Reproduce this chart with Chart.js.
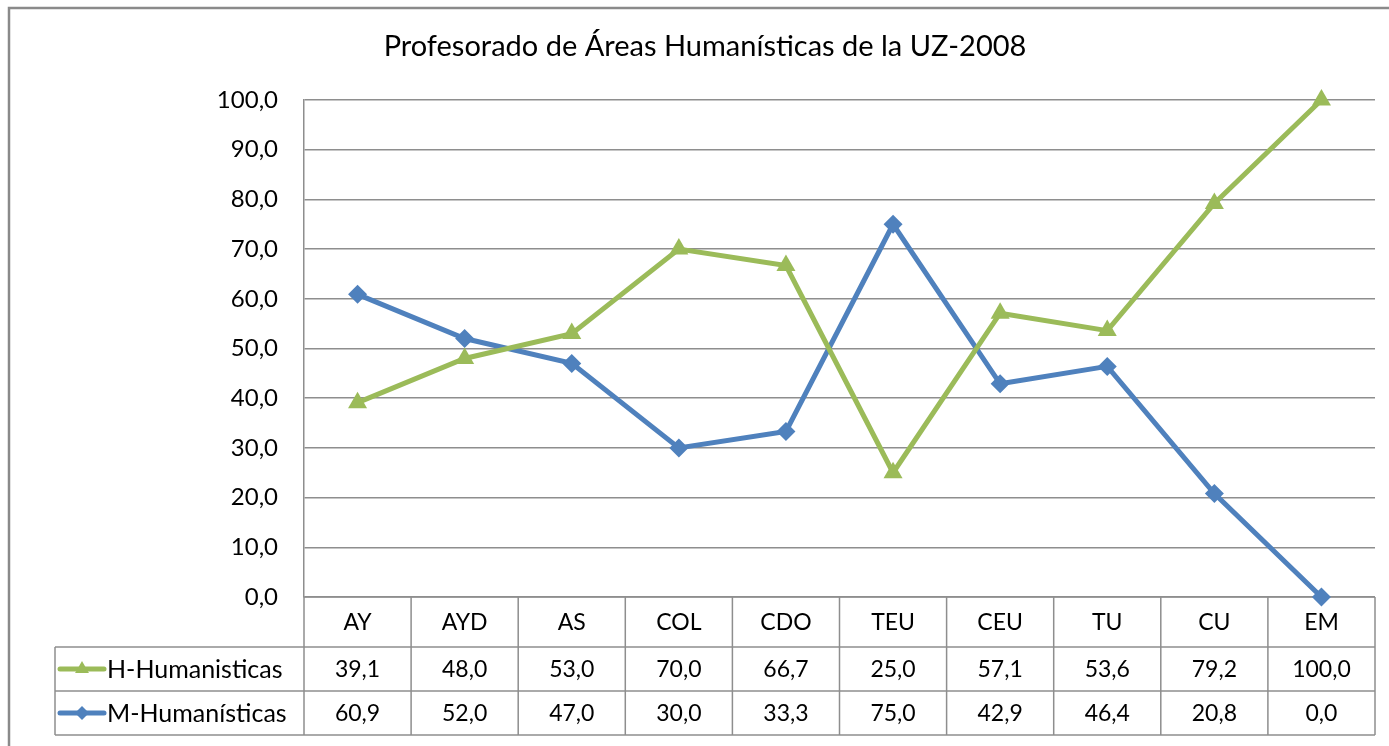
<!DOCTYPE html>
<html>
<head>
<meta charset="utf-8">
<script src="https://cdn.jsdelivr.net/npm/chart.js"></script>
<style>
  html, body { margin: 0; padding: 0; background: #fff; overflow: hidden; }
</style>
</head>
<body>
<canvas id="myChart" width="1389" height="746"></canvas>
<script>
const categories = ["AY", "AYD", "AS", "COL", "CDO", "TEU", "CEU", "TU", "CU", "EM"];
const hValues = [39.1, 48.0, 53.0, 70.0, 66.7, 25.0, 57.1, 53.6, 79.2, 100.0];
const mValues = [60.9, 52.0, 47.0, 30.0, 33.3, 75.0, 42.9, 46.4, 20.8, 0.0];
const seriesNames = ["H-Humanisticas", "M-Humanísticas"];
const chartTitle = "Profesorado de Áreas Humanísticas de la UZ-2008";

const green = "#9BBB59";
const blue = "#4F81BD";
const lineGray = "#8e8e8e";
const font = "Lato";

// excel style numbers: 39,1
function fmt(v) {
  return v.toFixed(1).replace(".", ",");
}

// frame, title and the data table under the plot
var tablePlugin = {
  id: "dataTable",
  beforeDraw: function(chart) {
    var c = chart.ctx;
    c.save();
    c.fillStyle = "#fff";
    c.fillRect(0, 0, chart.width, chart.height);
    c.strokeStyle = "#8a8a8a";
    c.lineWidth = 2.5;
    c.beginPath();
    c.moveTo(9, chart.height);
    c.lineTo(9, 8);
    c.lineTo(chart.width, 8);
    c.stroke();
    c.fillStyle = "#000";
    c.font = "29px " + font;
    c.textAlign = "center";
    c.textBaseline = "middle";
    c.fillText(chartTitle, 705, 47);
    c.restore();
  },
  beforeDatasetsDraw: function(chart) {
    var c = chart.ctx;
    var xs = chart.scales.x;
    var area = chart.chartArea;
    var colW = (area.right - area.left) / categories.length;
    var rowY = [area.bottom, 647, 691, 735];
    var legendLeft = 55;

    c.save();
    c.strokeStyle = lineGray;
    c.lineWidth = 1.5;
    c.beginPath();
    // horizontal rules
    c.moveTo(area.left, rowY[0]); c.lineTo(area.right, rowY[0]);
    for (var r = 1; r < rowY.length; r++) {
      c.moveTo(legendLeft, rowY[r]); c.lineTo(area.right, rowY[r]);
    }
    // column rules
    for (var i = 0; i <= categories.length; i++) {
      var bx = (i < categories.length ? xs.getPixelForValue(i) - colW / 2 : xs.getPixelForValue(i - 1) + colW / 2);
      c.moveTo(bx, rowY[0]); c.lineTo(bx, rowY[3]);
    }
    c.moveTo(legendLeft, rowY[1]); c.lineTo(legendLeft, rowY[3]);
    c.stroke();

    c.fillStyle = "#000";
    c.font = "23px " + font;
    c.textAlign = "center";
    c.textBaseline = "middle";
    var series = [hValues, mValues];
    for (var j = 0; j < categories.length; j++) {
      var cx = xs.getPixelForValue(j);
      c.fillText(categories[j], cx, (rowY[0] + rowY[1]) / 2 + 1);
      for (var s = 0; s < series.length; s++) {
        c.fillText(fmt(series[s][j]), cx, (rowY[s + 1] + rowY[s + 2]) / 2 + 1);
      }
    }

    // legend keys
    var colors = [green, blue];
    var styles = ["triangle", "rectRot"];
    c.font = "25px " + font;
    for (var k = 0; k < seriesNames.length; k++) {
      var y = (rowY[k + 1] + rowY[k + 2]) / 2;
      c.strokeStyle = colors[k];
      c.lineWidth = 5;
      c.lineCap = "round";
      c.beginPath();
      c.moveTo(60, y); c.lineTo(104, y);
      c.stroke();
      c.fillStyle = colors[k];
      Chart.helpers.drawPoint(c, { pointStyle: styles[k], radius: k == 0 ? 8 : 7, borderWidth: 0 }, 82, y);
      c.fillStyle = "#000";
      c.textAlign = "left";
      c.fillText(seriesNames[k], 107, y + 1);
    }
    c.restore();
  }
};

new Chart("myChart", {
  type: "line",
  data: {
    labels: categories,
    datasets: [{
      label: seriesNames[0],
      data: hValues,
      borderColor: green,
      backgroundColor: green,
      borderWidth: 5,
      pointStyle: "triangle",
      pointRadius: 11,
      pointHoverRadius: 11,
      pointBorderWidth: 0,
      tension: 0,
      clip: false,
      fill: false
    }, {
      label: seriesNames[1],
      data: mValues,
      borderColor: blue,
      backgroundColor: blue,
      borderWidth: 5,
      pointStyle: "rectRot",
      pointRadius: 9.5,
      pointHoverRadius: 9.5,
      pointBorderWidth: 0,
      tension: 0,
      clip: false,
      fill: false
    }]
  },
  options: {
    responsive: false,
    animation: false,
    layout: { padding: { left: 0, top: 100, right: 14, bottom: 149 } },
    plugins: {
      legend: { display: false },
      title: { display: false },
      tooltip: { enabled: false }
    },
    scales: {
      x: {
        type: "category",
        display: false,
        offset: true
      },
      y: {
        min: 0,
        max: 100,
        afterFit: function(scale) { scale.width = 304; },
        ticks: {
          stepSize: 10,
          padding: 26,
          color: "#000",
          font: { family: font, size: 24 },
          callback: function(v) { return fmt(v); }
        },
        grid: { color: lineGray, lineWidth: 1.5, drawTicks: false },
        border: { display: true, color: lineGray, width: 1.5 }
      }
    }
  },
  plugins: [tablePlugin]
});
</script>
</body>
</html>
